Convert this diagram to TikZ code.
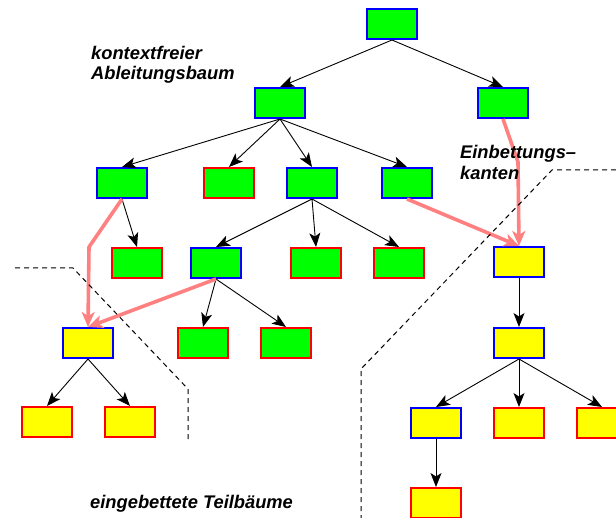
\documentclass[tikz,border=0pt]{standalone}
\usepackage{fontspec}
\setmainfont{Liberation Sans}
\usetikzlibrary{arrows.meta}
\definecolor{nodegreen}{RGB}{0,255,0}
\definecolor{nodeyellow}{RGB}{255,255,0}
\definecolor{rimblue}{RGB}{0,0,255}
\definecolor{rimred}{RGB}{255,0,0}
\definecolor{embedpink}{RGB}{255,128,128}
\tikzset{
  box/.style={rectangle, minimum width=50pt, minimum height=30pt, inner sep=0pt, line width=2pt},
  gb/.style={box, fill=nodegreen, draw=rimblue},
  gr/.style={box, fill=nodegreen, draw=rimred},
  yb/.style={box, fill=nodeyellow, draw=rimblue},
  yr/.style={box, fill=nodeyellow, draw=rimred},
  edge/.style={line width=0.9pt, -{Stealth[length=14pt,width=11pt,inset=3.5pt]}},
  embed/.style={draw=embedpink, line width=3.6pt, line join=round,
    -{Stealth[length=15pt,width=13pt,inset=4pt]}},
  border/.style={line width=1pt, dash pattern=on 5pt off 4pt},
  caption/.style={anchor=base west, inner sep=0pt, font=\bfseries\itshape\fontsize{18.3}{20}\selectfont}
}
\begin{document}
\begin{tikzpicture}[x=1pt, y=-1pt]
\useasboundingbox (0,0) rectangle (616,518);

% derivation tree
\node[gb] (r)  at (392,24) {};
\node[gb] (a)  at (280,103) {};
\node[gb] (b)  at (503,103) {};
\node[gb] (a1) at (122,183) {};
\node[gr] (a2) at (229,183) {};
\node[gb] (a3) at (312,183) {};
\node[gb] (a4) at (407,183) {};
\node[gr] (c1) at (137,263) {};
\node[gb] (c2) at (216,263) {};
\node[gr] (c3) at (316,263) {};
\node[gr] (c4) at (399,263) {};
\node[gr] (d2) at (203,343) {};
\node[gr] (d3) at (286,343) {};

% embedded subtree, left
\node[yb] (d1) at (88,343) {};
\node[yr] (e1) at (47,422) {};
\node[yr] (e2) at (130,422) {};

% embedded subtree, right
\node[yb] (y1) at (519,262) {};
\node[yb] (y2) at (519,343) {};
\node[yb] (y3) at (436,423) {};
\node[yr] (y4) at (519,423) {};
\node[yr] (y5) at (602,423) {};
\node[yr] (y6) at (436,503) {};

% tree edges
\foreach \p/\c in {r/a, r/b, a/a1, a/a2, a/a3, a/a4, a1/c1, a3/c2, a3/c3, a3/c4,
                   c2/d2, c2/d3, d1/e1, d1/e2, y1/y2, y2/y3, y2/y4, y2/y5, y3/y6}
  \draw[edge] (\p.south) -- (\c.north);

% embedding edges
\coordinate (kb) at (518,162);
\coordinate (ka) at (89,247);
\draw[embed] (b.south) -- (kb) -- (y1.north);
\draw[embed] (a4.south) -- (y1.north);
\draw[embed] (a1.south) -- (ka) -- (d1.north);
\draw[embed] (c2.south) -- (d1.north);

% borders of the embedded subtrees
\draw[border] (15,268) -- (73,268) -- (188,389) -- (188,442);
\draw[border] (616,170) -- (552,170) -- (361,369) -- (361,518);

% labels
\node[caption] (t1) at (91,60) {kontextfreier};
\node[caption] (t2) at (91,80) {Ableitungsbaum};
\node[caption] (t3) at (460,159) {Einbettungs–};
\node[caption] (t4) at (460,180) {kanten};
\node[caption] (t5) at (90,508) {eingebettete Teilbäume};
\end{tikzpicture}
\end{document}
